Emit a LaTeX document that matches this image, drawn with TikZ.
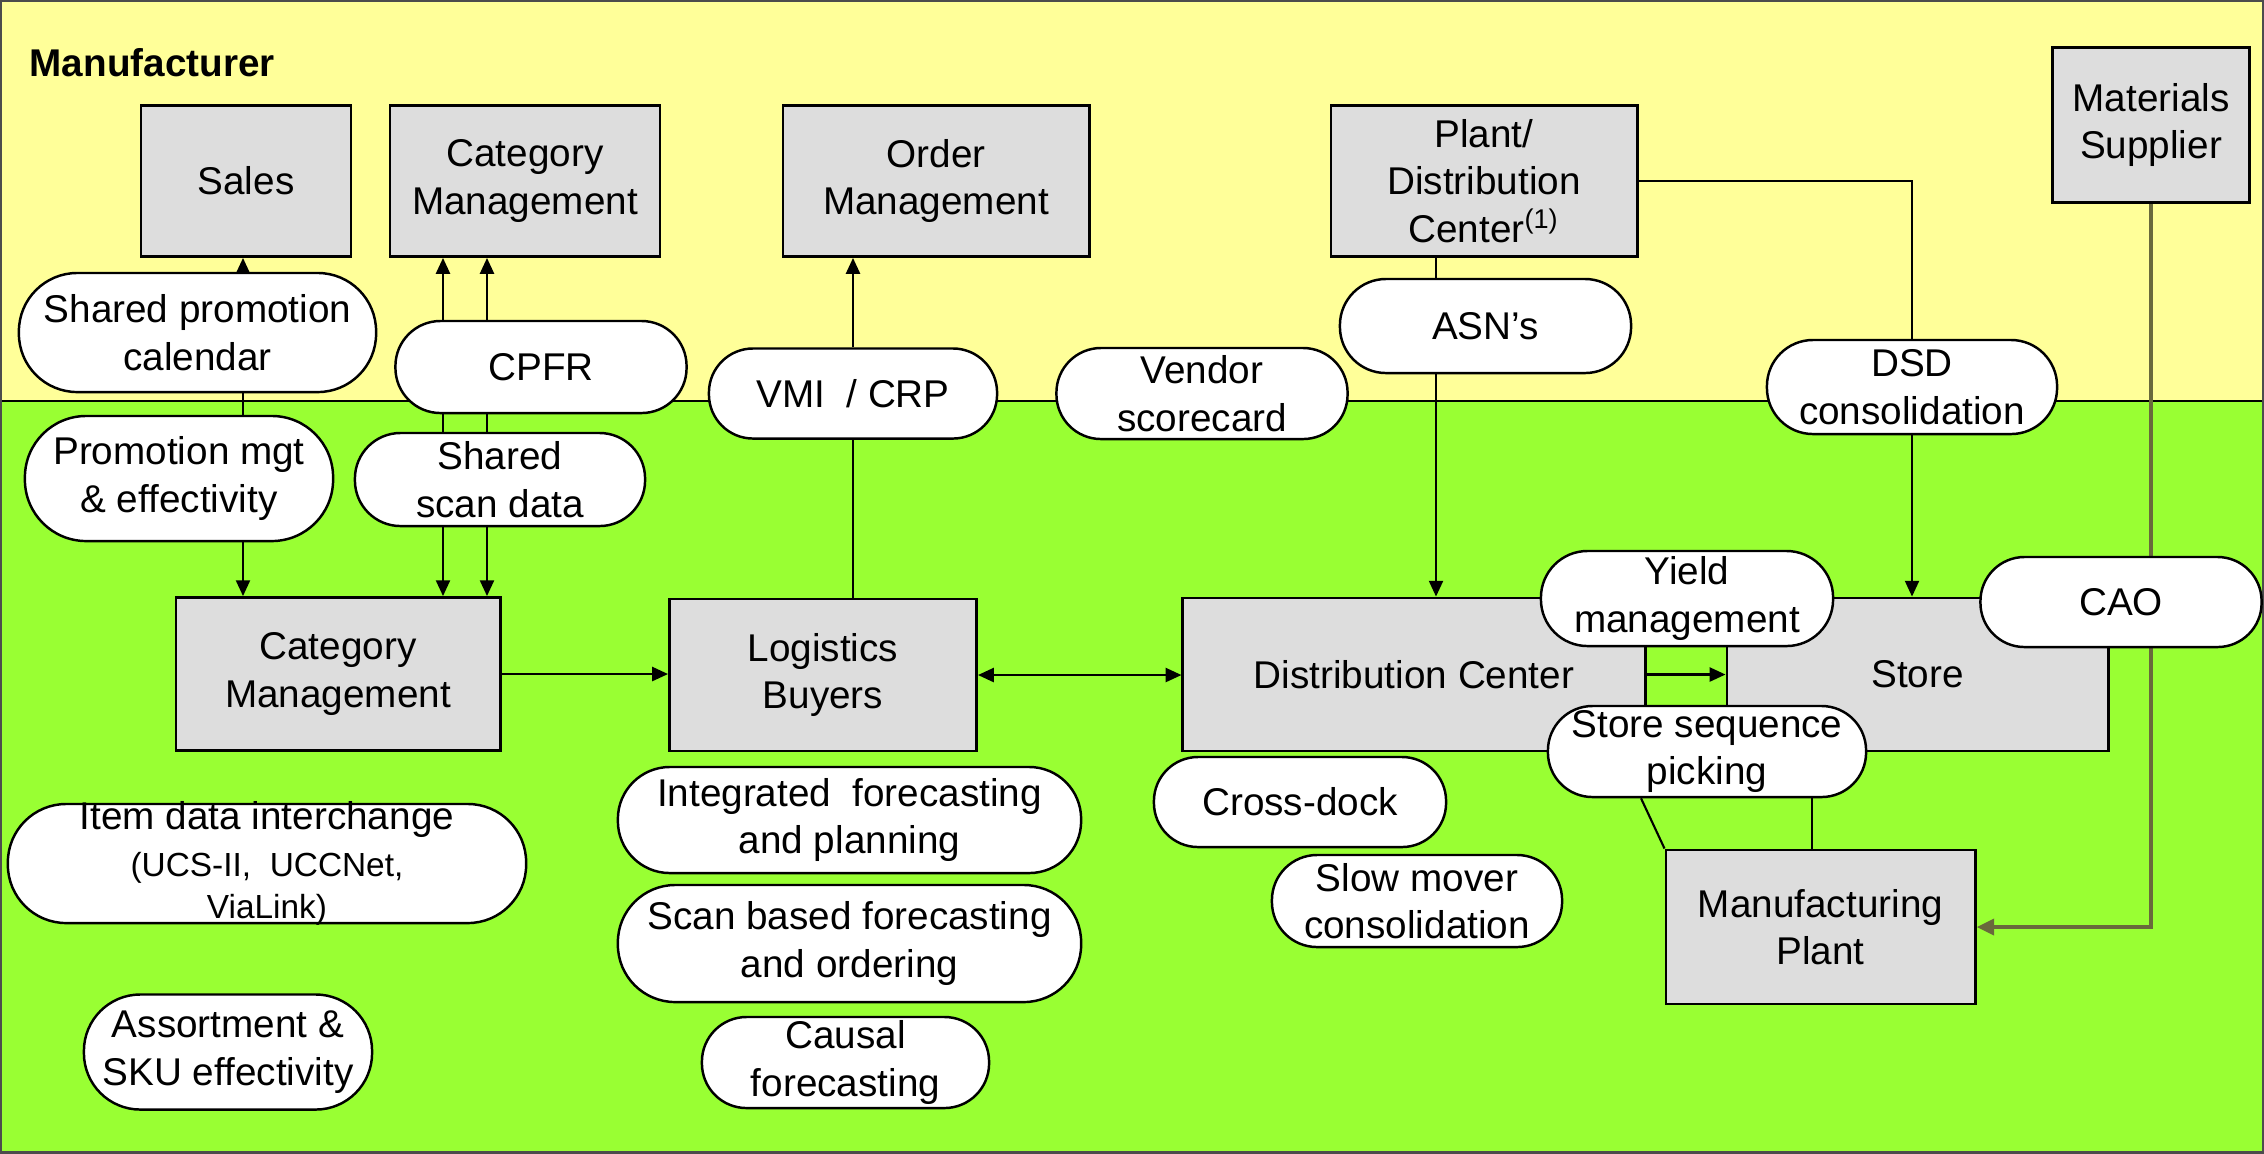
\documentclass[tikz,border=0pt]{standalone}
\usepackage{fontspec}
\setmainfont{Liberation Sans}
\usetikzlibrary{arrows.meta}
\definecolor{mfryellow}{RGB}{255,255,153}
\definecolor{retgreen}{RGB}{153,255,51}
\definecolor{boxgray}{RGB}{221,221,221}
\definecolor{suppline}{RGB}{105,105,60}
\pgfdeclarelayer{back}
\pgfdeclarelayer{wires}
\pgfsetlayers{back,wires,main}

\begin{document}
\begin{tikzpicture}[x=0.01cm, y=-0.01cm,
    every node/.style={font=\fontsize{11pt}{13.5pt}\selectfont, align=center, inner sep=0pt},
    unit/.style args={#1x#2}{rectangle, draw, line width=0.8pt, fill=boxgray,
                             minimum width=#1cm, minimum height=#2cm},
    ops/.style args={#1x#2}{rectangle, draw, line width=0.7pt, fill=white,
                            minimum width=#1cm, minimum height=#2cm, rounded corners=0.49*#2cm},
    link/.style={line width=0.6pt},
    arr/.style={link, -{Triangle[length=4.5pt,width=4pt]}},
    arr2/.style={link, {Triangle[length=4.5pt,width=4pt]}-{Triangle[length=4.5pt,width=4pt]}},
    supply/.style={line width=1.2pt, draw=suppline, -{Triangle[length=5pt,width=4.5pt]}},
  ]
  \useasboundingbox (0,0) rectangle (2264,1153);

  % the two areas
  \begin{pgfonlayer}{back}
    \fill[mfryellow] (0,0) rectangle (2264,401);
    \fill[retgreen] (0,401) rectangle (2264,1153);
    \draw[line width=0.6pt] (0,401) -- (2264,401);
    \draw[line width=1.4pt, black!70] (0,0) rectangle (2264,1153);
  \end{pgfonlayer}

  \node[anchor=west, font=\fontsize{11pt}{13.5pt}\selectfont\bfseries] (mfr) at (29,63) {Manufacturer};

  % functions
  \node[unit=2.10x1.51] (sales) at (246,181) {Sales};
  \node[unit=2.70x1.51] (catm) at (525,181) {Category\\Management};
  \node[unit=3.06x1.51] (ordm) at (936,181) {Order\\Management};
  \node[unit=3.06x1.51] (pdc) at (1484,181) {Plant/\\Distribution\\Center\textsuperscript{(1)}};
  \node[unit=1.97x1.55] (mats) at (2151,125) {Materials\\Supplier};
  \node[unit=3.24x1.53] (catmr) at (338,674) {Category\\Management};
  \node[unit=3.07x1.52] (logb) at (823,675) {Logistics\\Buyers};
  \node[unit=4.62x1.53] (dc) at (1414,674.5) {Distribution Center};
  \node[unit=3.81x1.53] (store) at (1917.5,674.5) {Store};
  \node[unit=3.09x1.54] (mfgp) at (1820.5,927) {Manufacturing\\Plant};

  % practices
  \node[ops=3.57x1.19] (spc) at (197.5,332.5) {Shared promotion\\calendar};
  \node[ops=3.08x1.25] (pmgt) at (179,478.5) {Promotion mgt\\\& effectivity};
  \node[ops=2.91x0.92] (cpfr) at (541,367) {CPFR};
  \node[ops=2.90x0.93] (ssd) at (500,479.5) {Shared\\scan data};
  \node[ops=2.88x0.90] (vmi) at (853,393.5) {VMI\ \ /\ CRP};
  \node[ops=2.91x0.91] (vend) at (1202,393.5) {Vendor\\scorecard};
  \node[ops=2.91x0.94] (asn) at (1485.5,326) {ASN’s};
  \node[ops=2.90x0.94] (dsd) at (1912,387) {DSD\\consolidation};
  \node[ops=2.92x0.95] (yld) at (1687,598.5) {Yield\\management};
  \node[ops=2.81x0.90] (cao) at (2121,602) {CAO};
  \node[ops=3.18x0.91] (ssp) at (1707,751.5) {Store sequence\\picking};
  \node[ops=2.92x0.90] (xdock) at (1300,802) {Cross-dock};
  \node[ops=2.90x0.92] (slow) at (1417,901) {Slow mover\\consolidation};
  \node[ops=4.63x1.06] (ifp) at (849.5,820) {Integrated\ \ forecasting\\and planning};
  \node[ops=4.63x1.17] (sbf) at (849.5,943.5) {Scan based forecasting\\and ordering};
  \node[ops=2.87x0.91] (caus) at (845.5,1062.5) {Causal\\forecasting};
  \node[ops=5.18x1.19, inner ysep=-6pt] (idi) at (267,863.5)
    {Item data interchange\\{\fontsize{9.5pt}{11pt}\selectfont (UCS-II,\ \ UCCNet,}\\[-1.5pt]{\fontsize{9.5pt}{11pt}\selectfont ViaLink)}};
  \node[ops=2.88x1.15] (asku) at (228,1052) {Assortment \&\\SKU effectivity};

  \coordinate (xa) at (243,0);
  \coordinate (xb) at (443,0);
  \coordinate (xc) at (487,0);
  \coordinate (xd) at (853,0);
  \coordinate (xe) at (1436,0);
  \coordinate (xh) at (1641,0);
  \coordinate (xi) at (1812,0);

  % connections
  \begin{pgfonlayer}{wires}
    \draw[arr] (spc.north -| xa) -- (sales.south -| xa);
    \draw[link] (spc.south -| xa) -- (pmgt.north -| xa);
    \draw[arr] (pmgt.south -| xa) -- (catmr.north -| xa);
    \foreach \xx in {xb,xc}{
      \draw[arr] (cpfr.north -| \xx) -- (catm.south -| \xx);
      \draw[link] (cpfr.south -| \xx) -- (ssd.north -| \xx);
      \draw[arr] (ssd.south -| \xx) -- (catmr.north -| \xx);
    }
    \draw[arr] (catmr.east) -- (catmr.east -| logb.west);
    \draw[arr2] (logb.east) -- (logb.east -| dc.west);
    \draw[arr] (vmi.north -| xd) -- (ordm.south -| xd);
    \draw[link] (vmi.south -| xd) -- (logb.north -| xd);
    \draw[link] (pdc.south -| xe) -- (asn.north -| xe);
    \draw[arr] (asn.south -| xe) -- (dc.north -| xe);
    \draw[link] (pdc.east) -| (dsd.north);
    \draw[arr] (dsd.south) -- (dsd.south |- store.north);
    \draw[arr] (dc.east) -- (store.west);
    \draw[supply] (mats.south) |- (mfgp.east);
    \draw[link] (ssp.south -| xh) -- (mfgp.north west);
    \draw[link] (ssp.south -| xi) -- (mfgp.north -| xi);
  \end{pgfonlayer}
\end{tikzpicture}
\end{document}
